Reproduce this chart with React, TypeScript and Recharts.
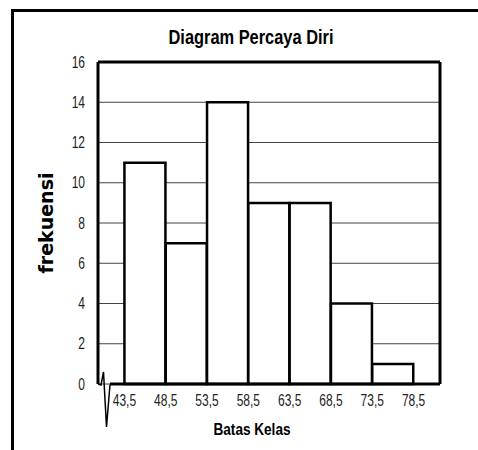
import {
  Bar,
  CartesianGrid,
  ComposedChart,
  Customized,
  ReferenceLine,
  XAxis,
  YAxis,
} from "recharts";

const classMids = [46, 51, 56, 61, 66, 71, 76];
const frequencies = [11, 7, 14, 9, 9, 4, 1];
const classBounds = [43.5, 48.5, 53.5, 58.5, 63.5, 68.5, 73.5, 78.5];
const boundLabels = ["43,5", "48,5", "53,5", "58,5", "63,5", "68,5", "73,5", "78,5"];
const freqTicks = [0, 2, 4, 6, 8, 10, 12, 14, 16];

const data = classMids.map((mid, i) => ({ mid, freq: frequencies[i] }));

const X_MIN = 40.3;
const X_MAX = 81.7;
const BREAK_END = 41.75;

const SANS = "'Liberation Sans', Arial, sans-serif";
const SQUEEZE = 0.75;

// narrow-looking text: squeeze horizontally around the anchor x
const squeeze = (x: number) => `translate(${x} 0) scale(${SQUEEZE} 1) translate(${-x} 0)`;

function XTick({ x, y, payload }: any) {
  const label = boundLabels[classBounds.indexOf(payload.value)] ?? "";
  return (
    <text
      x={x}
      y={y + 6}
      transform={squeeze(x)}
      textAnchor="middle"
      dominantBaseline="central"
      fontFamily={SANS}
      fontSize={16}
      fill="#222"
    >
      {label}
    </text>
  );
}

function YTick({ x, y, payload }: any) {
  return (
    <text
      x={x}
      y={y}
      transform={squeeze(x)}
      textAnchor="end"
      dominantBaseline="central"
      fontFamily={SANS}
      fontSize={16}
      fill="#222"
    >
      {payload.value}
    </text>
  );
}

function Decorations() {
  return (
    <g>
      <text
        x={251}
        y={37}
        textAnchor="middle"
        dominantBaseline="central"
        fontFamily={SANS}
        fontWeight="bold"
        fontSize={20}
        fill="#000"
        textLength={165}
        lengthAdjust="spacingAndGlyphs"
      >
        Diagram Percaya Diri
      </text>
      <text
        x={46}
        y={223}
        transform="rotate(-90 46 223)"
        textAnchor="middle"
        dominantBaseline="central"
        fontFamily="'DejaVu Sans', sans-serif"
        fontWeight="bold"
        fontSize={19}
        fill="#000"
      >
        frekuensi
      </text>
      <text
        x={252}
        y={429}
        textAnchor="middle"
        dominantBaseline="central"
        fontFamily={SANS}
        fontWeight="bold"
        fontSize={16}
        fill="#000"
        textLength={77}
        lengthAdjust="spacingAndGlyphs"
      >
        Batas Kelas
      </text>
      {/* axis break */}
      <path
        d="M98 384 L101 385 L103.5 372 L106.5 427 L110 384.5"
        fill="none"
        stroke="#000"
        strokeWidth={1.5}
      />
    </g>
  );
}

export default function App() {
  return (
    <div style={{ position: "absolute", left: 0, top: 0, width: 478, height: 450, background: "#fff" }}>
      <div
        style={{
          position: "absolute",
          left: 11,
          top: 9,
          width: 480,
          height: 460,
          borderLeft: "3px solid #000",
          borderTop: "3px solid #000",
        }}
      />
      <div style={{ position: "absolute", left: 0, top: 0 }}>
        <ComposedChart
          width={478}
          height={450}
          data={data}
          margin={{ top: 62, right: 38, bottom: 0, left: 0 }}
          barCategoryGap={0}
          barGap={0}
        >
          <CartesianGrid vertical={false} stroke="#444" strokeWidth={1} />
          <XAxis
            dataKey="mid"
            type="number"
            domain={[X_MIN, X_MAX]}
            ticks={classBounds}
            interval={0}
            height={66}
            axisLine={false}
            tickLine={false}
            tickSize={0}
            tickMargin={10}
            tick={<XTick />}
          />
          <YAxis
            type="number"
            domain={[0, 16]}
            ticks={freqTicks}
            interval={0}
            width={98}
            axisLine={{ stroke: "#000", strokeWidth: 3 }}
            tickLine={false}
            tickSize={0}
            tickMargin={13}
            tick={<YTick />}
          />
          <Bar
            dataKey="freq"
            fill="#fff"
            stroke="#000"
            strokeWidth={2.5}
            isAnimationActive={false}
          />
          <ReferenceLine y={16} stroke="#000" strokeWidth={3} />
          <ReferenceLine x={X_MAX} stroke="#000" strokeWidth={3} />
          <ReferenceLine
            segment={[
              { x: BREAK_END, y: 0 },
              { x: X_MAX, y: 0 },
            ]}
            stroke="#000"
            strokeWidth={3}
          />
          <Customized component={Decorations} />
        </ComposedChart>
      </div>
    </div>
  );
}
